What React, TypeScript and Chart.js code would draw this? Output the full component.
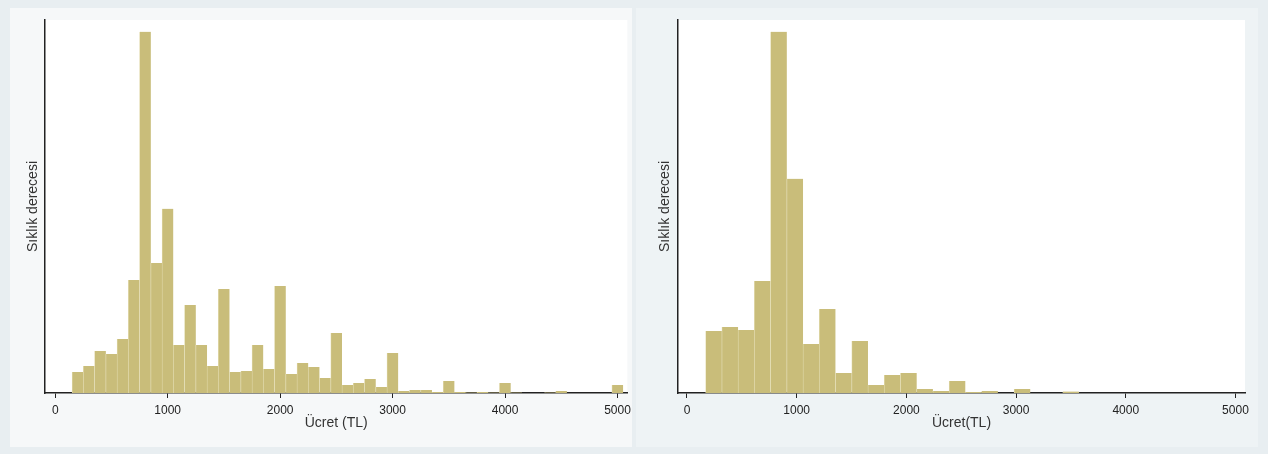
import React, { useEffect, useRef } from "react";
import { Chart, registerables } from "chart.js";

Chart.register(...registerables);

// Left histogram (bin width 100)
const leftBinCenters = [
  200, 300, 400, 500, 600, 700, 800, 900, 1000, 1100, 1200, 1300, 1400, 1500, 1600, 1700, 1800,
  1900, 2000, 2100, 2200, 2300, 2400, 2500, 2600, 2700, 2800, 2900, 3000, 3100, 3200, 3300, 3400,
  3500, 3600, 3700, 3800, 3900, 4000, 4100, 4200, 4300, 4400, 4500, 4600, 4700, 4800, 4900, 5000,
];
const leftFrequency = [
  0.21, 0.27, 0.42, 0.39, 0.54, 1.13, 3.61, 1.3, 1.84, 0.48, 0.88, 0.48, 0.27, 1.04, 0.21, 0.22, 0.48,
  0.24, 1.07, 0.19, 0.3, 0.26, 0.15, 0.6, 0.08, 0.1, 0.14, 0.06, 0.4, 0.02, 0.03, 0.03, 0.01,
  0.12, 0.01, 0.005, 0.01, 0.005, 0.1, 0.005, 0, 0, 0.005, 0.02, 0, 0, 0, 0, 0.08,
];

// Right histogram (bin width ~148)
const rightBinCenters = [
  244, 392, 540, 688, 836, 984, 1132, 1280, 1428, 1576, 1724, 1872, 2020, 2168, 2316, 2464, 2612,
  2760, 2908, 3056, 3204, 3352, 3500,
];
const rightFrequency = [
  0.62, 0.66, 0.63, 1.12, 3.61, 2.14, 0.49, 0.84, 0.2, 0.52, 0.08, 0.18, 0.2, 0.04, 0.02, 0.12, 0.01,
  0.02, 0, 0.04, 0, 0, 0.015,
];

const tickValues = [0, 1000, 2000, 3000, 4000, 5000];
const yTitle = "Sıklık derecesi";
const leftXTitle = "Ücret (TL)";
const rightXTitle = "Ücret(TL)";

const FONT = "'Liberation Sans', Arial, Helvetica, sans-serif";
const BAR = "#c9bd7a";
const BAR_EDGE = "#e4ddb2";

const plotBg = {
  id: "plotBg",
  beforeDraw(chart: any) {
    const { ctx, chartArea: a } = chart;
    ctx.save();
    ctx.fillStyle = "#ffffff";
    ctx.fillRect(a.left, a.top, a.right - a.left, a.bottom - a.top);
    ctx.restore();
  },
};

type HistProps = {
  centers: number[];
  freqs: number[];
  xTitle: string;
  xMin: number;
  xMax: number;
  yMax: number;
  axisWidth: number;
  yTitlePad: number;
  padRight: number;
  width: number;
  height: number;
};

function Histogram(p: HistProps) {
  const ref = useRef<HTMLCanvasElement | null>(null);
  useEffect(() => {
    if (!ref.current) return;
    const chart = new Chart(ref.current, {
      type: "bar",
      data: {
        datasets: [
          {
            data: p.centers.map((c, i) => ({ x: c, y: p.freqs[i] })),
            backgroundColor: BAR,
            borderColor: BAR_EDGE,
            borderWidth: { left: 0.7, right: 0, top: 0, bottom: 0 },
            borderSkipped: false,
            barPercentage: 1,
            categoryPercentage: 1,
          },
        ],
      },
      options: {
        animation: false,
        responsive: false,
        events: [],
        layout: { padding: { top: 12, right: p.padRight, left: 0, bottom: 0 } },
        plugins: { legend: { display: false }, tooltip: { enabled: false } },
        scales: {
          x: {
            type: "linear",
            offset: false,
            min: p.xMin,
            max: p.xMax,
            afterBuildTicks: (scale: any) => {
              scale.ticks = tickValues.map((v) => ({ value: v }));
            },
            afterFit: (scale: any) => {
              scale.height = 54;
            },
            ticks: {
              autoSkip: false,
              maxRotation: 0,
              padding: 5,
              color: "#222",
              font: { family: FONT, size: 12 },
              callback: (v: any) => String(v),
            },
            grid: {
              display: true,
              offset: false,
              drawOnChartArea: false,
              drawTicks: true,
              tickLength: 5,
              color: "#222",
              lineWidth: 1,
            },
            border: { display: true, color: "#222", width: 1.5 },
            title: {
              display: true,
              text: p.xTitle,
              color: "#333",
              font: { family: FONT, size: 14 },
              padding: { top: 0, bottom: 15 },
            },
          },
          y: {
            type: "linear",
            min: 0,
            max: p.yMax,
            afterFit: (scale: any) => {
              scale.width = p.axisWidth;
            },
            ticks: { display: false },
            grid: { display: false },
            border: { display: true, color: "#222", width: 1.5 },
            title: {
              display: true,
              text: yTitle,
              color: "#333",
              font: { family: FONT, size: 14 },
              padding: { top: p.yTitlePad, bottom: 0 },
            },
          },
        },
      },
      plugins: [plotBg],
    } as any);
    return () => chart.destroy();
  }, []);
  return <canvas ref={ref} width={p.width} height={p.height} style={{ display: "block" }} />;
}

export default function App() {
  return (
    <div
      style={{
        position: "fixed",
        left: 0,
        top: 0,
        width: 1268,
        height: 454,
        background: "#e8eef1",
        overflow: "hidden",
      }}
    >
      <div style={{ position: "absolute", left: 10, top: 8, width: 622, height: 439, background: "#f6f8f9" }} />
      <div style={{ position: "absolute", left: 636, top: 8, width: 622, height: 439, background: "#eef3f5" }} />
      <div style={{ position: "absolute", left: 10, top: 8 }}>
        <Histogram
          centers={leftBinCenters}
          freqs={leftFrequency}
          xTitle={leftXTitle}
          xMin={-91}
          xMax={5087}
          yMax={3.727}
          axisWidth={35}
          yTitlePad={14.6}
          padRight={7.4}
          width={626}
          height={439}
        />
      </div>
      <div style={{ position: "absolute", left: 636, top: 8 }}>
        <Histogram
          centers={rightBinCenters}
          freqs={rightFrequency}
          xTitle={rightXTitle}
          xMin={-82}
          xMax={5087}
          yMax={3.727}
          axisWidth={42}
          yTitlePad={20.6}
          padRight={17}
          width={626}
          height={439}
        />
      </div>
    </div>
  );
}
